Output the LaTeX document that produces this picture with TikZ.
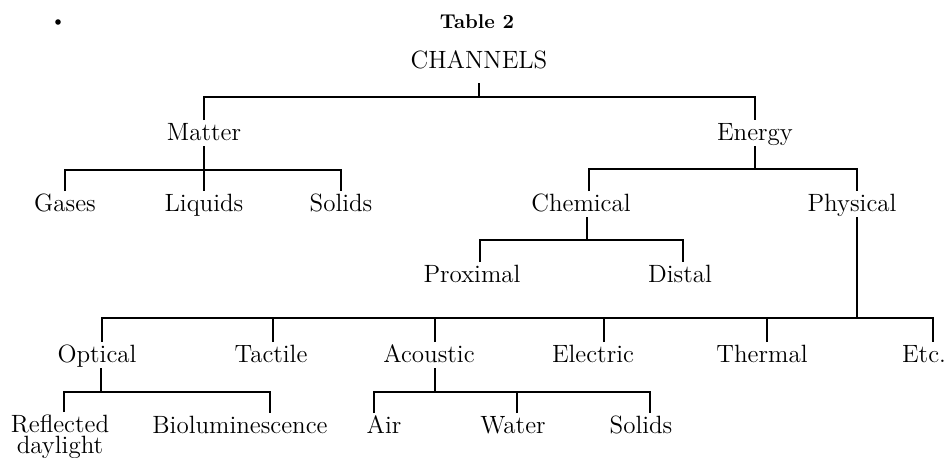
\documentclass[tikz,border=0pt]{standalone}
\usepackage{amsmath,amssymb}
\usepackage{tikz}
\usetikzlibrary{positioning,calc}
\usepackage{xcolor}

\tikzset{
  lbl/.style={font=\fontsize{12.5}{15}\selectfont, anchor=base, inner xsep=1pt, inner ysep=1pt, text height=8.8pt, text depth=2pt},
  link/.style={line width=1.3pt}
}

\begin{document}
\begin{tikzpicture}[x=0.5pt,y=-0.5pt]
\useasboundingbox (0,0) rectangle (949,457);

% Title
\fill (58,22) circle (1.4pt);
\node[font=\bfseries, anchor=base] (title) at (477,28) {Table 2};
\node[lbl, text depth=6.5pt] (chan) at (479,68) {CHANNELS};

% Level 1
\node[lbl] (matter) at (204,140) {Matter};
\node[lbl] (energy) at (755,140) {Energy};
\coordinate (j0) at (478,97);
\draw[link] (chan.south) -- (chan.south |- j0);
\draw[link] (matter.north) |- (j0) -| (energy.north);

% Level 2: matter
\node[lbl] (gases) at (65,211) {Gases};
\node[lbl] (liquids) at (204,211) {Liquids};
\node[lbl] (solidsA) at (341,211) {Solids};
\coordinate (j1) at (204,170);
\draw[link] (matter.south) -- (liquids.north);
\draw[link] (gases.north) |- (j1) -| (solidsA.north);

% Level 2: energy
\node[lbl] (chem) at (581,211) {Chemical};
\node[lbl] (phys) at (852,211) {Physical};
\coordinate (j2) at (755,169);
\draw[link] (energy.south) -- (energy.south |- j2);
\draw[link] ([xshift=4pt]chem.north) |- (j2) -| ([xshift=2.5pt]phys.north);

% Level 3: chemical
\node[lbl] (prox) at (472,282) {Proximal};
\node[lbl] (distal) at (680,282) {Distal};
\coordinate (j3) at (587,240);
\draw[link] ([xshift=3pt]chem.south) -- ([xshift=3pt]chem.south |- j3);
\draw[link] ([xshift=4pt]prox.north) |- (j3) -| ([xshift=1.5pt]distal.north);

% Level 4: physical
\node[lbl] (opt) at (97,362) {Optical};
\node[lbl] (tact) at (271,362) {Tactile};
\node[lbl] (acou) at (429,362) {Acoustic};
\node[lbl] (elec) at (593,362) {Electric};
\node[lbl] (therm) at (762,362) {Thermal};
\node[lbl] (etc) at (924,362) {Etc.};
\coordinate (j4) at (857,318);
\draw[link] ([xshift=2.5pt]phys.south) -- (j4);
\draw[link] ([xshift=2.5pt]opt.north) |- (j4) -| ([xshift=4.5pt]etc.north);
\draw[link] ([xshift=1pt]tact.north) -- ([xshift=1pt]tact.north |- j4);
\draw[link] ([xshift=3pt]acou.north) -- ([xshift=3pt]acou.north |- j4);
\draw[link] ([xshift=5.5pt]elec.north) -- ([xshift=5.5pt]elec.north |- j4);
\draw[link] ([xshift=2.5pt]therm.north) -- ([xshift=2.5pt]therm.north |- j4);

% Level 5: optical
\node[font=\fontsize{12.5}{15}\selectfont, align=center, anchor=north, inner sep=1pt] (refl) at (60,412) {Reflected\\[-4.3pt]daylight};
\node[lbl] (bio) at (240,433) {Bioluminescence};
\coordinate (j5) at (101,392);
\draw[link] ([xshift=2pt]opt.south) -- ([xshift=2pt]opt.south |- j5);
\draw[link] ([xshift=2pt]refl.north) |- (j5) -| ([xshift=15pt]bio.north);

% Level 5: acoustic
\node[lbl] (air) at (384,433) {Air};
\node[lbl] (water) at (513,433) {Water};
\node[lbl] (solidsB) at (641,433) {Solids};
\coordinate (j6) at (435,392);
\draw[link] ([xshift=3pt]acou.south) -- ([xshift=3pt]acou.south |- j6);
\draw[link] ([xshift=-5pt]air.north) |- (j6) -| ([xshift=4.5pt]solidsB.north);
\draw[link] ([xshift=2pt]water.north) -- ([xshift=2pt]water.north |- j6);
\end{tikzpicture}
\end{document}
